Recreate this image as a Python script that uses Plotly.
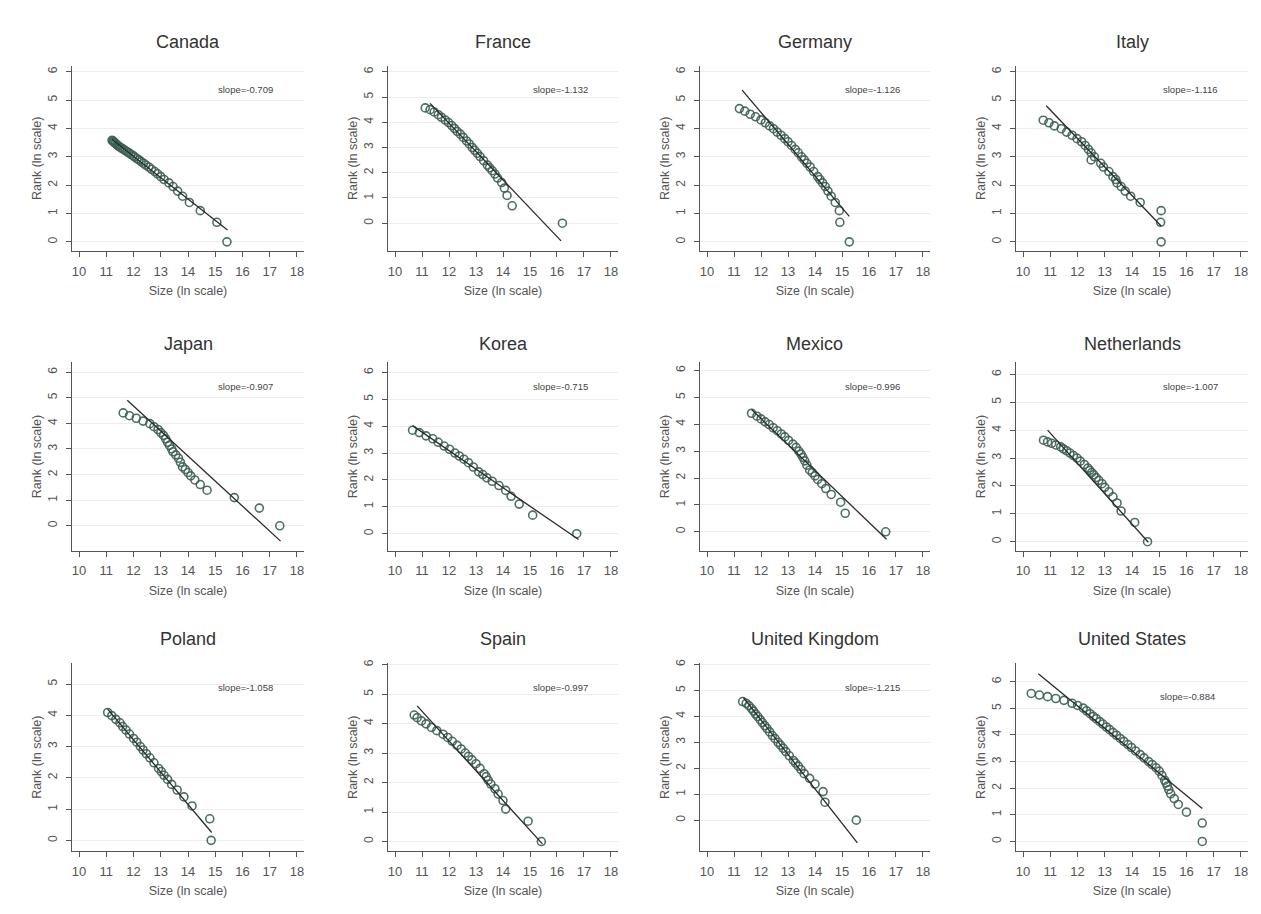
import plotly.graph_objects as go

countries = ["Canada", "France", "Germany", "Italy",
             "Japan", "Korea", "Mexico", "Netherlands",
             "Poland", "Spain", "United Kingdom", "United States"]

slopes = ["-0.709", "-1.132", "-1.126", "-1.116",
          "-0.907", "-0.715", "-0.996", "-1.007",
          "-1.058", "-0.997", "-1.215", "-0.884"]

x_ticks = [10, 11, 12, 13, 14, 15, 16, 17, 18]

# ---- Canada ----
canada_size = [15.43, 15.06, 14.45, 14.05, 13.80, 13.62, 13.45, 13.30, 13.12, 13.00,
               12.88, 12.78, 12.66, 12.56, 12.45, 12.37, 12.28, 12.20, 12.12, 12.04,
               11.98, 11.90, 11.83, 11.76, 11.70, 11.63, 11.57, 11.52, 11.46, 11.42,
               11.38, 11.34, 11.30, 11.27, 11.24, 11.21]
canada_rank = [0.00, 0.69, 1.10, 1.39, 1.61, 1.79, 1.95, 2.08, 2.20, 2.30,
               2.40, 2.48, 2.56, 2.64, 2.71, 2.77, 2.83, 2.89, 2.94, 3.00,
               3.04, 3.09, 3.14, 3.18, 3.22, 3.26, 3.30, 3.33, 3.37, 3.40,
               3.43, 3.47, 3.50, 3.53, 3.56, 3.58]
canada_fit_x = [11.20, 15.45]
canada_fit_y = [3.62, 0.42]

# ---- France ----
france_size = [16.20, 14.34, 14.15, 14.05, 13.95, 13.80, 13.70, 13.60, 13.50, 13.42,
               13.28, 13.15, 13.05, 12.95, 12.86, 12.75, 12.65, 12.53, 12.42, 12.30,
               12.20, 12.10, 11.98, 11.86, 11.72, 11.60, 11.45, 11.30, 11.12]
france_rank = [0.00, 0.69, 1.10, 1.39, 1.61, 1.79, 1.95, 2.08, 2.20, 2.30,
               2.48, 2.64, 2.77, 2.89, 3.00, 3.14, 3.26, 3.40, 3.53, 3.64,
               3.76, 3.87, 3.99, 4.09, 4.20, 4.30, 4.41, 4.50, 4.57]
france_fit_x = [11.30, 16.15]
france_fit_y = [4.75, -0.70]

# ---- Germany ----
germany_size = [15.27, 14.92, 14.90, 14.75, 14.60, 14.48, 14.38, 14.28, 14.18, 14.10,
                13.95, 13.82, 13.70, 13.60, 13.50, 13.38, 13.27, 13.13, 13.00, 12.88,
                12.74, 12.60, 12.46, 12.32, 12.16, 12.00, 11.80, 11.60, 11.40, 11.20]
germany_rank = [0.00, 0.69, 1.10, 1.39, 1.61, 1.79, 1.95, 2.08, 2.20, 2.30,
                2.48, 2.64, 2.77, 2.89, 3.00, 3.14, 3.26, 3.40, 3.53, 3.64,
                3.76, 3.87, 3.99, 4.09, 4.20, 4.30, 4.41, 4.50, 4.61, 4.70]
germany_fit_x = [11.30, 15.27]
germany_fit_y = [5.35, 0.90]

# ---- Italy ----
italy_size = [15.07, 15.05, 15.07, 14.30, 13.95, 13.75, 13.60, 13.45, 13.40, 13.30,
              13.15, 12.95, 12.85, 12.50, 12.62, 12.50, 12.40, 12.28, 12.15, 11.98,
              11.80, 11.60, 11.40, 11.15, 10.95, 10.74]
italy_rank = [0.00, 0.69, 1.10, 1.39, 1.61, 1.79, 1.95, 2.08, 2.20, 2.30,
              2.48, 2.64, 2.77, 2.89, 3.00, 3.14, 3.26, 3.40, 3.53, 3.64,
              3.76, 3.87, 3.99, 4.09, 4.20, 4.29]
italy_fit_x = [10.85, 15.07]
italy_fit_y = [4.80, 0.56]

# ---- Japan ----
japan_size = [17.37, 16.62, 15.70, 14.70, 14.45, 14.25, 14.10, 14.00, 13.90, 13.80,
              13.72, 13.65, 13.55, 13.45, 13.40, 13.32, 13.25, 13.18, 13.10, 13.00,
              12.90, 12.75, 12.60, 12.35, 12.10, 11.85, 11.62]
japan_rank = [0.00, 0.69, 1.10, 1.39, 1.61, 1.79, 1.95, 2.08, 2.20, 2.30,
              2.48, 2.64, 2.77, 2.89, 3.00, 3.14, 3.26, 3.40, 3.53, 3.64,
              3.76, 3.87, 3.99, 4.09, 4.20, 4.30, 4.41]
japan_fit_x = [11.77, 17.40]
japan_fit_y = [4.90, -0.60]

# ---- Korea ----
korea_size = [16.73, 15.10, 14.60, 14.30, 14.10, 13.85, 13.60, 13.40, 13.25, 13.10,
              12.90, 12.72, 12.55, 12.38, 12.22, 12.02, 11.82, 11.60, 11.40, 11.15,
              10.90, 10.65]
korea_rank = [0.00, 0.69, 1.10, 1.39, 1.61, 1.79, 1.95, 2.08, 2.20, 2.30,
              2.48, 2.64, 2.77, 2.89, 3.00, 3.14, 3.26, 3.40, 3.53, 3.64,
              3.76, 3.85]
korea_fit_x = [10.65, 16.80]
korea_fit_y = [4.02, -0.22]

# ---- Mexico ----
mexico_size = [16.62, 15.12, 14.95, 14.60, 14.40, 14.25, 14.10, 14.00, 13.90, 13.80,
               13.70, 13.62, 13.55, 13.48, 13.40, 13.30, 13.18, 13.02, 12.88, 12.75,
               12.60, 12.45, 12.30, 12.15, 12.00, 11.85, 11.65]
mexico_rank = [0.00, 0.69, 1.10, 1.39, 1.61, 1.79, 1.95, 2.08, 2.20, 2.30,
               2.48, 2.64, 2.77, 2.89, 3.00, 3.14, 3.26, 3.40, 3.53, 3.64,
               3.76, 3.87, 3.99, 4.09, 4.20, 4.30, 4.41]
mexico_fit_x = [11.65, 16.65]
mexico_fit_y = [4.55, -0.28]

# ---- Netherlands ----
netherlands_size = [14.57, 14.10, 13.60, 13.45, 13.30, 13.15, 13.00, 12.90, 12.78, 12.68,
                    12.60, 12.52, 12.45, 12.38, 12.25, 12.10, 11.98, 11.85, 11.72, 11.60,
                    11.48, 11.38, 11.20, 11.05, 10.90, 10.75]
netherlands_rank = [0.00, 0.69, 1.10, 1.39, 1.61, 1.79, 1.95, 2.08, 2.20, 2.30,
                    2.40, 2.48, 2.56, 2.64, 2.77, 2.89, 3.00, 3.09, 3.18, 3.26,
                    3.33, 3.40, 3.47, 3.53, 3.58, 3.64]
netherlands_fit_x = [10.90, 14.60]
netherlands_fit_y = [4.00, -0.02]

# ---- Poland ----
poland_size = [14.85, 14.80, 14.15, 13.85, 13.60, 13.40, 13.25, 13.12, 13.02, 12.92,
               12.75, 12.60, 12.47, 12.35, 12.25, 12.12, 12.00, 11.85, 11.72, 11.60,
               11.50, 11.35, 11.20, 11.05]
poland_rank = [0.00, 0.69, 1.10, 1.39, 1.61, 1.79, 1.95, 2.08, 2.20, 2.30,
               2.48, 2.64, 2.77, 2.89, 3.00, 3.14, 3.26, 3.40, 3.53, 3.64,
               3.76, 3.87, 3.99, 4.09]
poland_fit_x = [11.05, 14.87]
poland_fit_y = [4.20, 0.25]

# ---- Spain ----
spain_size = [15.42, 14.93, 14.10, 14.00, 13.82, 13.70, 13.55, 13.45, 13.38, 13.30,
              13.15, 13.00, 12.85, 12.72, 12.60, 12.45, 12.30, 12.12, 11.95, 11.78,
              11.55, 11.35, 11.15, 10.98, 10.82, 10.71]
spain_rank = [0.00, 0.69, 1.10, 1.39, 1.61, 1.79, 1.95, 2.08, 2.20, 2.30,
              2.48, 2.64, 2.77, 2.89, 3.00, 3.14, 3.26, 3.40, 3.53, 3.64,
              3.76, 3.87, 3.99, 4.09, 4.20, 4.29]
spain_fit_x = [10.82, 15.46]
spain_fit_y = [4.60, -0.08]

# ---- United Kingdom ----
uk_size = [15.53, 14.37, 14.30, 14.00, 13.80, 13.60, 13.48, 13.38, 13.28, 13.20,
           13.05, 12.92, 12.82, 12.72, 12.63, 12.52, 12.42, 12.32, 12.22, 12.14,
           12.05, 11.97, 11.88, 11.80, 11.72, 11.65, 11.55, 11.45, 11.32]
uk_rank = [0.00, 0.69, 1.10, 1.39, 1.61, 1.79, 1.95, 2.08, 2.20, 2.30,
           2.48, 2.64, 2.77, 2.89, 3.00, 3.14, 3.26, 3.40, 3.53, 3.64,
           3.76, 3.87, 3.99, 4.09, 4.20, 4.30, 4.41, 4.50, 4.57]
uk_fit_x = [11.35, 15.57]
uk_fit_y = [4.72, -0.88]

# ---- United States ----
us_size = [16.58, 16.58, 16.00, 15.70, 15.55, 15.42, 15.35, 15.30, 15.25, 15.20,
           15.10, 15.00, 14.88, 14.74, 14.61, 14.44, 14.30, 14.13, 13.98, 13.85,
           13.70, 13.57, 13.43, 13.31, 13.18, 13.06, 12.93, 12.82, 12.69, 12.58,
           12.46, 12.33, 12.21, 12.00, 11.80, 11.50, 11.20, 10.90, 10.60, 10.30]
us_rank = [0.00, 0.69, 1.10, 1.39, 1.61, 1.79, 1.95, 2.08, 2.20, 2.30,
           2.48, 2.64, 2.77, 2.89, 3.00, 3.14, 3.26, 3.40, 3.53, 3.64,
           3.76, 3.87, 3.99, 4.09, 4.20, 4.30, 4.41, 4.50, 4.61, 4.70,
           4.80, 4.91, 5.01, 5.11, 5.19, 5.30, 5.37, 5.44, 5.50, 5.56]
us_fit_x = [10.56, 16.58]
us_fit_y = [6.30, 1.24]

sizes = [canada_size, france_size, germany_size, italy_size,
         japan_size, korea_size, mexico_size, netherlands_size,
         poland_size, spain_size, uk_size, us_size]
ranks = [canada_rank, france_rank, germany_rank, italy_rank,
         japan_rank, korea_rank, mexico_rank, netherlands_rank,
         poland_rank, spain_rank, uk_rank, us_rank]
fits_x = [canada_fit_x, france_fit_x, germany_fit_x, italy_fit_x,
          japan_fit_x, korea_fit_x, mexico_fit_x, netherlands_fit_x,
          poland_fit_x, spain_fit_x, uk_fit_x, us_fit_x]
fits_y = [canada_fit_y, france_fit_y, germany_fit_y, italy_fit_y,
          japan_fit_y, korea_fit_y, mexico_fit_y, netherlands_fit_y,
          poland_fit_y, spain_fit_y, uk_fit_y, us_fit_y]

# ---- layout geometry (page pixels; page body has an 8px margin) ----
OFF = 8
W, H = 1261 - OFF, 914 - OFF
col_px = [(72, 304), (388, 618), (700, 930), (1016, 1248)]
row_px = [(62, 248), (360, 549), (662, 851)]
title_px = [38, 341, 638]
y_ranges = [[-0.32, 6.21], [-1.10, 6.24], [-0.32, 6.21], [-0.32, 6.21],
            [-0.97, 6.38], [-0.63, 6.37], [-0.70, 6.30], [-0.32, 6.43],
            [-0.35, 5.67], [-0.33, 6.05], [-1.20, 6.05], [-0.37, 6.70]]
y_ticks = [[0, 1, 2, 3, 4, 5, 6]] * 8 + [[0, 1, 2, 3, 4, 5]] + [[0, 1, 2, 3, 4, 5, 6]] * 3
slope_pos = [(0.75, 0.87)] * 11 + [(0.74, 0.82)]


def fx(px):
    return (px - OFF) / W


def fy(py):
    return 1 - (py - OFF) / H


FONT = "Liberation Sans, Arial, sans-serif"
fig = go.Figure()
layout = dict(
    width=W, height=H, margin=dict(l=0, r=0, t=0, b=0),
    paper_bgcolor="white", plot_bgcolor="white",
    showlegend=False, font=dict(family=FONT, color="#444"),
    annotations=[],
)

for i, name in enumerate(countries):
    r, c = divmod(i, 4)
    k = "" if i == 0 else str(i + 1)
    xa, ya = "x" + k, "y" + k
    x0, x1 = col_px[c]
    y0, y1 = row_px[r]
    fig.add_trace(go.Scatter(
        x=sizes[i], y=ranks[i], mode="markers", xaxis=xa, yaxis=ya,
        marker=dict(symbol="circle-open", size=8, color="rgba(60,95,85,0.9)",
                    line=dict(width=1.6)),
    ))
    fig.add_trace(go.Scatter(
        x=fits_x[i], y=fits_y[i], mode="lines", xaxis=xa, yaxis=ya,
        line=dict(color="#2a2a2a", width=1.3),
    ))
    layout["xaxis" + k] = dict(
        domain=[fx(x0), fx(x1)], anchor=ya, range=[9.74, 18.26],
        tickvals=x_ticks, ticks="outside", ticklen=5, tickcolor="#555",
        ticklabelstandoff=3,
        showline=True, linecolor="#555", linewidth=1.2, showgrid=False, zeroline=False,
        tickfont=dict(size=13, color="#555", family=FONT),
        title=dict(text="Size (ln scale)", font=dict(size=12.5, color="#555", family=FONT),
                   standoff=8),
    )
    layout["yaxis" + k] = dict(
        domain=[fy(y1), fy(y0)], anchor=xa, range=y_ranges[i],
        tickvals=y_ticks[i], ticks="outside", ticklen=5, tickcolor="#555", tickangle=-90,
        ticklabelstandoff=4,
        showline=True, linecolor="#555", linewidth=1.2,
        showgrid=True, gridcolor="#ededed", gridwidth=1, zeroline=False,
        tickfont=dict(size=12, color="#555", family=FONT),
        title=dict(text="Rank (ln scale)", font=dict(size=12.5, color="#555", family=FONT),
                   standoff=1),
    )
    layout["annotations"].append(dict(
        text=name, x=fx((x0 + x1) / 2), y=fy(title_px[r]), xref="paper", yref="paper",
        showarrow=False, xanchor="center", yanchor="middle",
        font=dict(size=18, color="#333", family=FONT),
    ))
    sx, sy = slope_pos[i]
    layout["annotations"].append(dict(
        text="slope=" + slopes[i], x=sx, y=sy, xref=xa + " domain", yref=ya + " domain",
        showarrow=False, xanchor="center", yanchor="middle",
        font=dict(size=9.5, color="#444", family=FONT),
    ))

fig.update_layout(**layout)
fig.write_html("out.html")
